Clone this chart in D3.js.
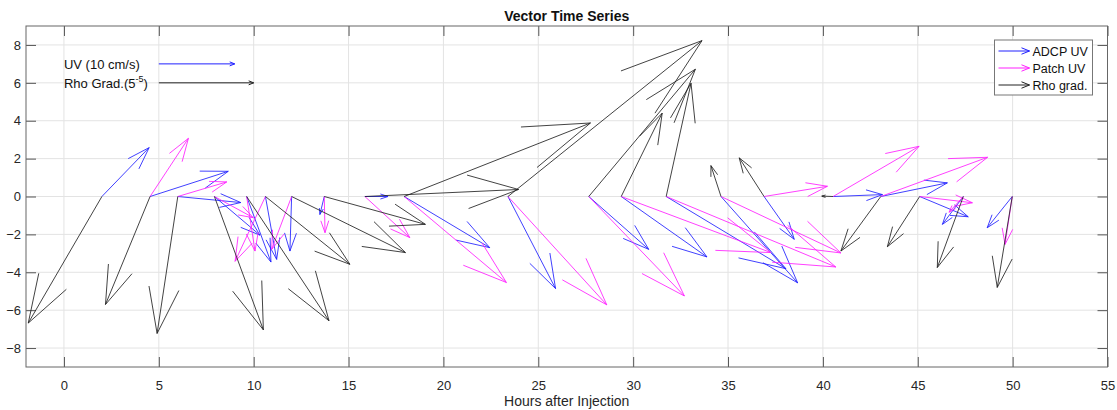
<!DOCTYPE html>
<html>
<head>
<meta charset="utf-8">
<script src="https://cdn.jsdelivr.net/npm/d3@7"></script>
<style>
  body { margin: 0; background: #fff; }
  text { font-family: "Liberation Sans", Arial, sans-serif; }
</style>
</head>
<body>
<div id="chart"></div>
<script>
// Sample times (hours after injection) - vector origins on y = 0
const times = [2.0, 4.54, 6.0, 7.93, 9.63, 10.62, 12.0, 13.72, 15.86, 17.93, 23.4,
               27.66, 29.37, 31.74, 34.63, 36.9, 40.54, 43.05, 45.1, 47.4, 49.98];

// ADCP UV components
const adcpU = [2.49, 4.12, 3.32, 2.4, 1.28, 0.59, -0.09, -0.23, 1.22, 4.51, 2.51,
               3.16, 4.52, 6.31, 4.04, 1.59, 2.6, 3.51, 2.56, -1.1, -1.32];
const adcpV = [2.58, 1.33, -0.32, -2.04, -3.46, -3.32, -2.88, -0.95, 0.0, -2.7, -4.86,
               -2.79, -3.19, -3.81, -4.56, -2.26, 0.1, 0.72, -1.07, -1.47, -1.65];

// Patch UV components (no patch value at the first time)
const patchU = [null, 2.02, 2.58, 2.05, 0.44, -1.6, -1.05, 0.04, 2.37, 5.39, 5.21,
                5.04, 7.89, 8.94, 6.32, 3.34, 4.53, 5.63, 2.78, -0.75, -0.38];
const patchV = [null, 3.07, 0.77, -1.12, -2.88, -3.42, -2.79, -1.91, -2.17, -4.54, -5.72,
                -5.25, -2.96, -3.72, -2.98, 0.54, 2.65, 2.07, -0.33, -0.83, -2.53];

// Density gradient components
const rhoU = [-3.88, -2.35, -1.09, 2.58, 4.34, 4.45, 6.0, 5.33, 8.1, 9.82, 10.23,
              5.62, 2.16, 1.31, -0.53, -1.31, -0.6, -2.1, -1.7, -1.37, -0.79];
const rhoV = [-6.68, -5.70, -7.23, -7.04, -6.56, -3.58, -2.96, -1.47, 0.37, 3.88, 8.23,
              6.72, 4.4, 5.98, 1.63, 2.04, 0.02, -2.88, -2.65, -3.75, -4.8];

const xTicks = [0, 5, 10, 15, 20, 25, 30, 35, 40, 45, 50, 55];
const yTicks = [-8, -6, -4, -2, 0, 2, 4, 6, 8];

const series = [
    { name: 'ADCP UV', u: adcpU, v: adcpV, color: '#2020ff' },
    { name: 'Patch UV', u: patchU, v: patchV, color: '#ff20ff' },
    { name: 'Rho grad.', u: rhoU, v: rhoV, color: '#222' }
];

const width = 1117, height = 410;
const plot = { left: 26, right: 1107.5, top: 26, bottom: 367 };

const x = d3.scaleLinear().domain([-2, 55]).range([plot.left, plot.right]);
const y = d3.scaleLinear().domain([-9, 9]).range([plot.bottom, plot.top]);

const svg = d3.select('#chart').append('svg')
    .attr('width', width)
    .attr('height', height);

// Grid
const grid = svg.append('g');
grid.selectAll('.gx').data(xTicks).enter().append('line')
    .attr('x1', d => x(d)).attr('x2', d => x(d))
    .attr('y1', plot.top).attr('y2', plot.bottom)
    .attr('stroke', '#e3e3e3').attr('stroke-width', 1);
grid.selectAll('.gy').data(yTicks).enter().append('line')
    .attr('x1', plot.left).attr('x2', plot.right)
    .attr('y1', d => y(d)).attr('y2', d => y(d))
    .attr('stroke', '#e3e3e3').attr('stroke-width', 1);

// Axes with inward ticks on all four sides
const tickLen = 10;
const axisColor = '#262626';
const bottomAxis = d3.axisBottom(x).tickValues(xTicks).tickSize(-tickLen).tickPadding(14);
const topAxis = d3.axisTop(x).tickValues(xTicks).tickSize(-tickLen).tickFormat('');
const leftAxis = d3.axisLeft(y).tickValues(yTicks).tickSize(-tickLen).tickPadding(5);
const rightAxis = d3.axisRight(y).tickValues(yTicks).tickSize(-tickLen).tickFormat('');

function styleAxis(g) {
    g.select('.domain').remove();
    g.selectAll('line').attr('stroke', '#555');
    g.selectAll('text').attr('fill', axisColor).style('font-size', '13px')
        .style('font-family', '"Liberation Sans", Arial, sans-serif');
}

svg.append('g').attr('transform', `translate(0,${plot.bottom})`).call(bottomAxis).call(styleAxis);
svg.append('g').attr('transform', `translate(0,${plot.top})`).call(topAxis).call(styleAxis);
svg.append('g').attr('transform', `translate(${plot.left},0)`).call(leftAxis).call(styleAxis);
svg.append('g').attr('transform', `translate(${plot.right},0)`).call(rightAxis).call(styleAxis);

// Box
svg.append('rect')
    .attr('x', plot.left).attr('y', plot.top)
    .attr('width', plot.right - plot.left).attr('height', plot.bottom - plot.top)
    .attr('fill', 'none').attr('stroke', '#666').attr('stroke-width', 1);

// Quiver arrows (MATLAB style head: alpha = beta = 0.33)
const alpha = 0.33, beta = 0.33;
const arrowsG = svg.append('g');

function arrowPath(x0, u, v) {
    const tx = x0 + u, ty = v;
    const b1x = tx - alpha * (u + beta * v), b1y = ty - alpha * (v - beta * u);
    const b2x = tx - alpha * (u - beta * v), b2y = ty - alpha * (v + beta * u);
    return `M${x(x0)},${y(0)}L${x(tx)},${y(ty)}` +
           `M${x(b1x)},${y(b1y)}L${x(tx)},${y(ty)}L${x(b2x)},${y(b2y)}`;
}

series.forEach(s => {
    const data = times.map((t, i) => ({ t, u: s.u[i], v: s.v[i] }))
        .filter(d => d.u !== null && d.v !== null);
    arrowsG.append('g').selectAll('path').data(data).enter().append('path')
        .attr('d', d => arrowPath(d.t, d.u, d.v))
        .attr('fill', 'none')
        .attr('stroke', s.color)
        .attr('stroke-width', 1)
        .attr('stroke-opacity', 0.85);
});

// Reference arrows (scale annotation)
const refLabels = ['UV (10 cm/s)', 'Rho Grad.(5'];
const refY = [7, 6];
const refLen = [4, 5];
const refColors = ['#2020ff', '#222'];

function smallArrow(g, x1, x2, yy, color, head) {
    g.append('line').attr('x1', x1).attr('x2', x2).attr('y1', yy).attr('y2', yy)
        .attr('stroke', color).attr('stroke-width', 1);
    g.append('path')
        .attr('d', `M${x2 - head},${yy - head * 0.4}L${x2},${yy}L${x2 - head},${yy + head * 0.4}`)
        .attr('fill', 'none').attr('stroke', color).attr('stroke-width', 1);
}

const refG = svg.append('g');
refLabels.forEach((lbl, i) => {
    const t = refG.append('text')
        .attr('x', x(0)).attr('y', y(refY[i]) + 5)
        .attr('fill', '#111').style('font-size', '13px');
    t.append('tspan').text(lbl);
    if (i === 1) {
        t.append('tspan').attr('dy', -6).style('font-size', '9px').text('-5');
        t.append('tspan').attr('dy', 6).text(')');
    }
    smallArrow(refG, x(5), x(5 + refLen[i]), y(refY[i]), refColors[i], 5);
});

// Legend
const legend = svg.append('g');
const lg = { x: 994.5, y: 40, w: 98, h: 55 };
legend.append('rect')
    .attr('x', lg.x).attr('y', lg.y).attr('width', lg.w).attr('height', lg.h)
    .attr('fill', '#fff').attr('stroke', '#777').attr('stroke-width', 1);
series.forEach((s, i) => {
    const yy = lg.y + 11 + i * 17;
    smallArrow(legend, lg.x + 4, lg.x + 35, yy, s.color, 8);
    legend.append('text')
        .attr('x', lg.x + 38).attr('y', yy + 4.5)
        .attr('fill', '#111').style('font-size', '12.5px')
        .text(s.name);
});

// Title and axis label
svg.append('text')
    .attr('x', (plot.left + plot.right) / 2).attr('y', 21)
    .attr('text-anchor', 'middle')
    .attr('fill', '#111')
    .style('font-size', '14px').style('font-weight', 'bold')
    .text('Vector Time Series');

svg.append('text')
    .attr('x', (plot.left + plot.right) / 2).attr('y', 406)
    .attr('text-anchor', 'middle')
    .attr('fill', axisColor)
    .style('font-size', '14px')
    .text('Hours after Injection');
</script>
</body>
</html>
